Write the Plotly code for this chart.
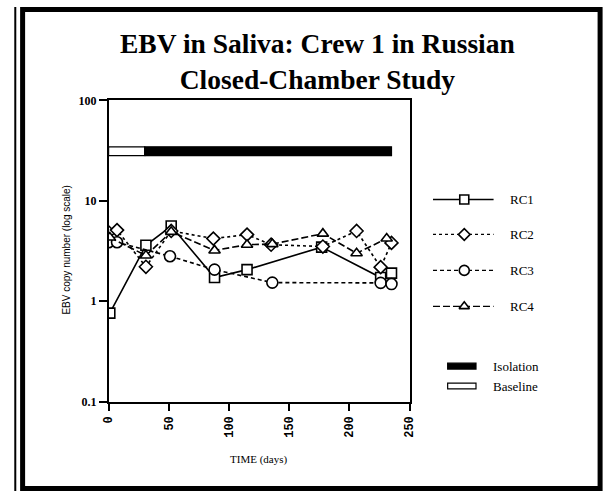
import plotly.graph_objects as go

W, H = 612, 498

# ---- data ----
rc1_days = [1, 31, 52, 88, 115, 177, 226, 235]
rc1_vals = [0.76, 3.6, 5.6, 1.72, 2.06, 3.45, 1.72, 1.9]

rc2_days = [0, 7, 31, 52, 87, 115, 135, 178, 206, 226, 235]
rc2_vals = [4.85, 5.1, 2.2, 5.0, 4.2, 4.6, 3.65, 3.5, 5.0, 2.18, 3.8]

rc3_days = [0, 7, 51, 88, 136, 226, 235]
rc3_vals = [3.86, 3.86, 2.8, 2.06, 1.53, 1.52, 1.48]

rc4_days = [1, 31, 52, 88, 115, 136, 178, 206, 231]
rc4_vals = [4.3, 2.85, 4.9, 3.2, 3.65, 3.7, 4.7, 3.0, 4.2]

phase_names = ["Baseline", "Isolation"]
phase_start = [0, 30]
phase_end = [30, 235]
band_low, band_high = 28.1, 34.4

x_ticks = [0, 50, 100, 150, 200, 250]
y_ticks = [0.1, 1, 10, 100]
y_tick_text = ["0.1", "1", "10", "100"]

# ---- layout geometry (pixels) ----
L, R, T, B = 105, 413, 96, 406

fig = go.Figure()

# phase bars
for name, s, e in zip(phase_names, phase_start, phase_end):
    fill = "white" if name == "Baseline" else "black"
    fig.add_trace(go.Scatter(
        x=[s, e, e, s, s], y=[band_low, band_low, band_high, band_high, band_low],
        mode="lines", fill="toself", fillcolor=fill,
        line=dict(color="black", width=1.2), showlegend=False, hoverinfo="skip"))

series = [
    ("RC1", rc1_days, rc1_vals, "solid", "square", 10),
    ("RC2", rc2_days, rc2_vals, "dot", "diamond", 10),
    ("RC3", rc3_days, rc3_vals, "4px,3px", "circle", 11),
    ("RC4", rc4_days, rc4_vals, "7px,3px", "triangle-up", 10),
]
for name, xs, ys, dash, sym, sz in series:
    fig.add_trace(go.Scatter(
        x=xs, y=ys, mode="lines+markers", name=name,
        line=dict(color="black", width=1.6, dash=dash),
        marker=dict(symbol=sym, size=sz, color="white",
                    line=dict(color="black", width=1.6)),
        showlegend=False))

# legend samples on a pixel overlay axis
leg_y = [198, 234, 271, 308]
for (name, xs, ys, dash, sym, sz), yy in zip(series, leg_y):
    fig.add_trace(go.Scatter(
        x=[437, 469, 499], y=[yy, yy, yy], mode="lines", xaxis="x2", yaxis="y2",
        line=dict(color="black", width=1.6 if dash == "solid" else 1.2, dash=dash),
        showlegend=False, hoverinfo="skip"))
    fig.add_trace(go.Scatter(
        x=[469], y=[yy], mode="markers", xaxis="x2", yaxis="y2",
        marker=dict(symbol=sym, size=sz - 1, color="white",
                    line=dict(color="black", width=1.6)),
        showlegend=False, hoverinfo="skip"))

annotations = []
for (name, *_), yy in zip(series, leg_y):
    annotations.append(dict(x=514 / W, y=1 - yy / H, xref="paper", yref="paper",
                            text=name, showarrow=False, xanchor="left", yanchor="middle",
                            font=dict(family="Liberation Serif", size=13, color="black")))

shapes = []
for name, yy in [("Isolation", 369.5), ("Baseline", 390)]:
    fill = "black" if name == "Isolation" else "white"
    shapes.append(dict(type="rect", xref="paper", yref="paper",
                       x0=452 / W, x1=481 / W, y0=1 - (yy - 3) / H, y1=1 - (yy + 3) / H,
                       fillcolor=fill, line=dict(color="black", width=1.2)))
    annotations.append(dict(x=496 / W, y=1 - yy / H, xref="paper", yref="paper",
                            text=name, showarrow=False, xanchor="left", yanchor="middle",
                            font=dict(family="Liberation Serif", size=13, color="black")))

# title
annotations.append(dict(x=319 / W, y=1 - 56 / H, xref="paper", yref="paper",
                        text="<b>EBV in Saliva: Crew 1 in Russian<br>Closed-Chamber Study</b>",
                        showarrow=False, xanchor="center", yanchor="middle",
                        font=dict(family="Liberation Serif", size=27.5, color="black")))
# axis titles
annotations.append(dict(x=62 / W, y=1 - 250 / H, xref="paper", yref="paper",
                        text="EBV copy number (log scale)", textangle=-90,
                        showarrow=False, xanchor="center", yanchor="middle",
                        font=dict(family="Liberation Sans", size=10, color="black")))
annotations.append(dict(x=258 / W, y=1 - 466 / H, xref="paper", yref="paper",
                        text="TIME (days)", showarrow=False, xanchor="center", yanchor="middle",
                        font=dict(family="Liberation Serif", size=11, color="black")))

# outer frame
shapes.append(dict(type="rect", xref="paper", yref="paper",
                   x0=17 / W, x1=608 / W, y0=1 - 2.5 / H, y1=1 - 495.5 / H,
                   line=dict(color="black", width=5), fillcolor="rgba(0,0,0,0)"))
shapes.append(dict(type="line", xref="paper", yref="paper",
                   x0=9.5 / W, x1=9.5 / W, y0=0, y1=1,
                   line=dict(color="black", width=2)))

fig.update_layout(
    width=W, height=H, margin=dict(l=0, r=0, t=0, b=0),
    paper_bgcolor="white", plot_bgcolor="rgba(0,0,0,0)", showlegend=False,
    xaxis=dict(domain=[L / W, R / W], range=[0, 250], tickvals=x_ticks,
               showline=True, linecolor="black", linewidth=1.6, mirror=True,
               ticks="outside", ticklen=8, tickwidth=1.6, tickcolor="black",
               tickangle=-90, showgrid=False, zeroline=False,
               tickfont=dict(family="Liberation Mono", size=12, color="black",
                             weight="bold")),
    yaxis=dict(domain=[1 - B / H, 1 - T / H], type="log", range=[-1, 2],
               tickvals=y_ticks, ticktext=y_tick_text,
               showline=True, linecolor="black", linewidth=1.6, mirror=True,
               ticks="outside", ticklen=8, tickwidth=1.6, tickcolor="black",
               showgrid=False, zeroline=False,
               tickfont=dict(family="Liberation Serif", size=12, color="black",
                             weight="bold")),
    xaxis2=dict(domain=[0, 1], range=[0, W], visible=False, anchor="y2"),
    yaxis2=dict(domain=[0, 1], range=[H, 0], visible=False, anchor="x2"),
    annotations=annotations, shapes=shapes,
)

fig.write_html("out.html", config={"displayModeBar": False},
               post_script="document.body.style.margin='0';document.body.style.overflow='hidden';")
